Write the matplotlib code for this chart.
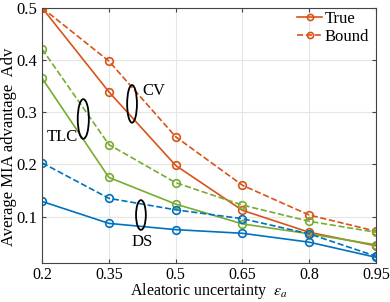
import matplotlib
matplotlib.use("Agg")
import matplotlib.pyplot as plt
from matplotlib.patches import Ellipse

# aleatoric uncertainty levels
eps = [0.2, 0.35, 0.5, 0.65, 0.8, 0.95]

# CV
cv_true = [0.500, 0.339, 0.198, 0.112, 0.070, 0.044]
cv_bound = [0.500, 0.398, 0.253, 0.160, 0.103, 0.072]
# TLC
tlc_true = [0.365, 0.175, 0.124, 0.086, 0.067, 0.046]
tlc_bound = [0.421, 0.238, 0.165, 0.122, 0.091, 0.070]
# DS
ds_true = [0.129, 0.087, 0.075, 0.068, 0.051, 0.022]
ds_bound = [0.203, 0.135, 0.113, 0.096, 0.067, 0.024]

blue = '#0072BD'
orange = '#D95319'
green = '#77AC30'

plt.rcParams['font.family'] = 'Liberation Serif'
plt.rcParams['mathtext.fontset'] = 'stix'

fig = plt.figure(figsize=(3.9, 3.02), dpi=100)
ax = fig.add_axes([0.108, 0.129, 0.856, 0.845])

mk = dict(marker='o', markersize=5.5, markerfacecolor='none', markeredgewidth=1.2, linewidth=1.2)
ax.plot(eps, cv_true, '-', color=orange, label='True', **mk)
ax.plot(eps, cv_bound, '--', color=orange, label='Bound', **mk)
ax.plot(eps, tlc_true, '-', color=green, **mk)
ax.plot(eps, tlc_bound, '--', color=green, **mk)
ax.plot(eps, ds_true, '-', color=blue, **mk)
ax.plot(eps, ds_bound, '--', color=blue, **mk)

# annotation ellipses
for cx, cy, w, h in [(0.402, 0.316, 0.022, 0.072), (0.2925, 0.287, 0.025, 0.076), (0.422, 0.103, 0.022, 0.057)]:
    ax.add_patch(Ellipse((cx, cy), w, h, fill=False, edgecolor='black', linewidth=1.3, zorder=5))
ax.text(0.425, 0.341, 'CV', fontsize=12, va='center', ha='left')
ax.text(0.245, 0.252, 'TLC', fontsize=12, va='center', ha='center')
ax.text(0.424, 0.052, 'DS', fontsize=12, va='center', ha='center')

ax.set_xlim(0.2, 0.95)
ax.set_ylim(0.011, 0.5)
ax.set_xticks(eps)
ax.set_xticklabels(['0.2', '0.35', '0.5', '0.65', '0.8', '0.95'])
ax.set_yticks([0.1, 0.2, 0.3, 0.4, 0.5])
ax.tick_params(direction='in', top=True, right=True, labelsize=12, color='#444444', length=3)
ax.tick_params(axis='x', labelsize=11.5, pad=2.5)
ax.grid(True, color='#e6e6e6', linewidth=0.8)
ax.set_axisbelow(True)
for s in ax.spines.values():
    s.set_color('#444444')
    s.set_linewidth(0.8)

ax.set_xlabel(r'Aleatoric uncertainty  $\epsilon_a$', fontsize=11.5)
ax.xaxis.set_label_coords(0.5, -0.149)
ax.xaxis.label.set_va('bottom')
ax.set_ylabel('Average MIA advantage  Adv', fontsize=12)
ax.yaxis.set_label_coords(-0.1, 0.455)
ax.yaxis.label.set_va('center')

leg = ax.legend(loc='upper right', bbox_to_anchor=(1.0, 1.015), frameon=False, fontsize=12,
                handlelength=1.5, handletextpad=0.15, borderaxespad=0.0, labelspacing=0.15,
                markerscale=0.8)

fig.savefig('out.png', dpi=100)
